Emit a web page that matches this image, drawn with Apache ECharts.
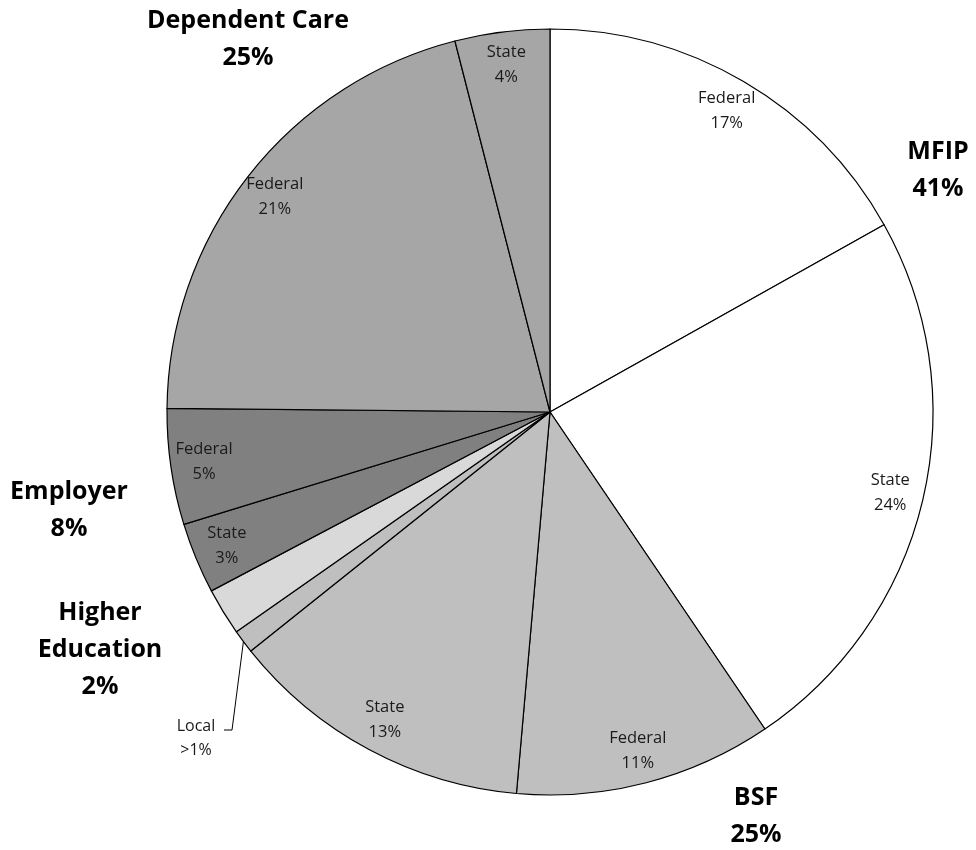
<!DOCTYPE html>
<html><head><meta charset="utf-8">
<script src="https://cdn.jsdelivr.net/npm/echarts@6/dist/echarts.min.js"></script>
<style>html,body{margin:0;padding:0;background:#fff}#c{width:976px;height:850px}</style>
</head><body><div id="c"></div>
<script>
// ---- data ----
const sliceNames  = ['Federal','State','Federal','State','Local','Higher Education','State','Federal','Federal','State'];
const sliceGroups = ['MFIP','MFIP','BSF','BSF','BSF','Higher Education','Employer','Employer','Dependent Care','Dependent Care'];
const sliceValues = [16.9, 23.7, 10.9, 12.9, 1.0, 2.0, 3.0, 4.9, 20.9, 4.0];
const sliceLabels = ['17%','24%','11%','13%','>1%','','3%','5%','21%','4%'];
const groupNames  = ['MFIP','BSF','Higher Education','Employer','Dependent Care'];
const groupTitles = ['MFIP','BSF','Higher\nEducation','Employer','Dependent Care'];
const groupLabels = ['41%','25%','2%','8%','25%'];

// ---- styles / positions ----
const groupColors = {'MFIP':'#ffffff','BSF':'#bfbfbf','Higher Education':'#d9d9d9','Employer':'#808080','Dependent Care':'#a6a6a6'};
const groupLabelPos = [[938,170],[756,816],[100,650],[69,510],[248,39]];
const localLabelPos = [196,738];
const localElbow = [[232,730],[224,730]];
const CX = 550, CY = 412, R = 383;
const FONT = '"Open Sans", "Liberation Sans", sans-serif';

const total = sliceValues.reduce((a,b)=>a+b,0);
const groupValues = groupNames.map(g => sliceValues.filter((v,i)=>sliceGroups[i]===g).reduce((a,b)=>a+b,0));

// start point of the Local leader line: middle of the Local slice's arc
function arcMidPoint(idx){
  const before = sliceValues.slice(0, idx).reduce((a,b)=>a+b,0);
  const ang = (before + sliceValues[idx]/2) / total * 2 * Math.PI;
  return [CX + R*Math.sin(ang), CY - R*Math.cos(ang)];
}

const mainData = sliceValues.map((v,i)=>({
  name: sliceNames[i], value: v,
  itemStyle: {color: groupColors[sliceGroups[i]]},
  label: i===4 ? {show:true} : {show:false},
  labelLine: i===4 ? {show:true} : {show:false}
}));
const innerLabelData = sliceValues.map((v,i)=>({
  name: sliceNames[i], value: v,
  label: {show: i!==4 && i!==5}
}));
const groupData = groupValues.map((v,i)=>({name: groupTitles[i], value: v}));

const chart = echarts.init(document.getElementById('c'), null, {renderer:'canvas'});
chart.setOption({
  backgroundColor:'#ffffff',
  animation:false,
  series:[
    {
      type:'pie', center:[CX,CY], radius:R, startAngle:90, clockwise:true,
      avoidLabelOverlap:false, silent:true, minAngle:0,
      itemStyle:{borderColor:'#000', borderWidth:1.2},
      label:{position:'outside', formatter: p => 'Local\n' + sliceLabels[p.dataIndex],
             fontFamily:FONT, fontSize:16, color:'#1a1a1a', lineHeight:24, align:'center'},
      labelLine:{length:25, length2:8, lineStyle:{color:'#000', width:1}},
      labelLayout: p => p.dataIndex===4 ? {
        x:localLabelPos[0], y:localLabelPos[1], align:'center', verticalAlign:'middle',
        labelLinePoints:[arcMidPoint(4), localElbow[0], localElbow[1]]
      } : {},
      data: mainData
    },
    {
      type:'pie', center:[CX,CY], radius:[0, R*1.81], startAngle:90, clockwise:true,
      avoidLabelOverlap:false, silent:true, z:5,
      itemStyle:{color:'rgba(0,0,0,0)', borderWidth:0},
      label:{position:'inside', formatter: p => p.name + '\n' + sliceLabels[p.dataIndex],
             fontFamily:FONT, fontSize:16.5, color:'#1a1a1a', lineHeight:25, align:'center'},
      labelLine:{show:false},
      data: innerLabelData
    },
    {
      type:'pie', center:[CX,CY], radius:R, startAngle:90, clockwise:true,
      avoidLabelOverlap:false, silent:true, z:6,
      itemStyle:{color:'rgba(0,0,0,0)', borderWidth:0},
      label:{show:true, position:'outside', formatter: p => p.name + '\n' + groupLabels[p.dataIndex],
             fontFamily:FONT, fontSize:25, fontWeight:'bold', color:'#000', lineHeight:37, align:'center'},
      labelLine:{show:false},
      labelLayout: p => ({x:groupLabelPos[p.dataIndex][0], y:groupLabelPos[p.dataIndex][1], align:'center', verticalAlign:'middle'}),
      data: groupData
    }
  ]
});
</script>
</body></html>
